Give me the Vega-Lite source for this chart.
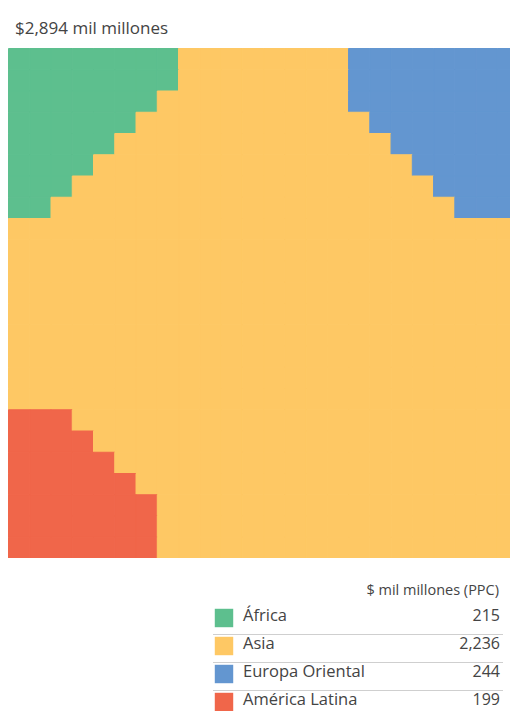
{
  "$schema": "https://vega.github.io/schema/vega-lite/v6.json",
  "padding": {"left": 8, "top": 20, "right": 0, "bottom": 0},
  "background": "#ffffff",
  "config": {
    "view": {"stroke": null},
    "font": "Open Sans",
    "concat": {"spacing": 24}
  },
  "vconcat": [
    {
      "width": 502,
      "height": 510,
      "title": {
        "text": "$2,894 mil millones",
        "anchor": "start",
        "fontSize": 17,
        "fontWeight": "normal",
        "color": "#444444",
        "letterSpacing": 1.3,
        "offset": 10,
        "dx": 7
      },
      "data": {
        "values": [
          {"col":0,"row":0,"reg":"AF"},{"col":1,"row":0,"reg":"AF"},{"col":2,"row":0,"reg":"AF"},{"col":3,"row":0,"reg":"AF"},{"col":4,"row":0,"reg":"AF"},{"col":5,"row":0,"reg":"AF"},{"col":6,"row":0,"reg":"AF"},{"col":7,"row":0,"reg":"AF"},{"col":8,"row":0,"reg":"AS"},{"col":9,"row":0,"reg":"AS"},{"col":10,"row":0,"reg":"AS"},{"col":11,"row":0,"reg":"AS"},{"col":12,"row":0,"reg":"AS"},{"col":13,"row":0,"reg":"AS"},{"col":14,"row":0,"reg":"AS"},{"col":15,"row":0,"reg":"AS"},{"col":16,"row":0,"reg":"EU"},{"col":17,"row":0,"reg":"EU"},{"col":18,"row":0,"reg":"EU"},{"col":19,"row":0,"reg":"EU"},{"col":20,"row":0,"reg":"EU"},{"col":21,"row":0,"reg":"EU"},{"col":22,"row":0,"reg":"EU"},{"col":23,"row":0,"reg":"EU"},
          {"col":0,"row":1,"reg":"AF"},{"col":1,"row":1,"reg":"AF"},{"col":2,"row":1,"reg":"AF"},{"col":3,"row":1,"reg":"AF"},{"col":4,"row":1,"reg":"AF"},{"col":5,"row":1,"reg":"AF"},{"col":6,"row":1,"reg":"AF"},{"col":7,"row":1,"reg":"AF"},{"col":8,"row":1,"reg":"AS"},{"col":9,"row":1,"reg":"AS"},{"col":10,"row":1,"reg":"AS"},{"col":11,"row":1,"reg":"AS"},{"col":12,"row":1,"reg":"AS"},{"col":13,"row":1,"reg":"AS"},{"col":14,"row":1,"reg":"AS"},{"col":15,"row":1,"reg":"AS"},{"col":16,"row":1,"reg":"EU"},{"col":17,"row":1,"reg":"EU"},{"col":18,"row":1,"reg":"EU"},{"col":19,"row":1,"reg":"EU"},{"col":20,"row":1,"reg":"EU"},{"col":21,"row":1,"reg":"EU"},{"col":22,"row":1,"reg":"EU"},{"col":23,"row":1,"reg":"EU"},
          {"col":0,"row":2,"reg":"AF"},{"col":1,"row":2,"reg":"AF"},{"col":2,"row":2,"reg":"AF"},{"col":3,"row":2,"reg":"AF"},{"col":4,"row":2,"reg":"AF"},{"col":5,"row":2,"reg":"AF"},{"col":6,"row":2,"reg":"AF"},{"col":7,"row":2,"reg":"AS"},{"col":8,"row":2,"reg":"AS"},{"col":9,"row":2,"reg":"AS"},{"col":10,"row":2,"reg":"AS"},{"col":11,"row":2,"reg":"AS"},{"col":12,"row":2,"reg":"AS"},{"col":13,"row":2,"reg":"AS"},{"col":14,"row":2,"reg":"AS"},{"col":15,"row":2,"reg":"AS"},{"col":16,"row":2,"reg":"EU"},{"col":17,"row":2,"reg":"EU"},{"col":18,"row":2,"reg":"EU"},{"col":19,"row":2,"reg":"EU"},{"col":20,"row":2,"reg":"EU"},{"col":21,"row":2,"reg":"EU"},{"col":22,"row":2,"reg":"EU"},{"col":23,"row":2,"reg":"EU"},
          {"col":0,"row":3,"reg":"AF"},{"col":1,"row":3,"reg":"AF"},{"col":2,"row":3,"reg":"AF"},{"col":3,"row":3,"reg":"AF"},{"col":4,"row":3,"reg":"AF"},{"col":5,"row":3,"reg":"AF"},{"col":6,"row":3,"reg":"AS"},{"col":7,"row":3,"reg":"AS"},{"col":8,"row":3,"reg":"AS"},{"col":9,"row":3,"reg":"AS"},{"col":10,"row":3,"reg":"AS"},{"col":11,"row":3,"reg":"AS"},{"col":12,"row":3,"reg":"AS"},{"col":13,"row":3,"reg":"AS"},{"col":14,"row":3,"reg":"AS"},{"col":15,"row":3,"reg":"AS"},{"col":16,"row":3,"reg":"AS"},{"col":17,"row":3,"reg":"EU"},{"col":18,"row":3,"reg":"EU"},{"col":19,"row":3,"reg":"EU"},{"col":20,"row":3,"reg":"EU"},{"col":21,"row":3,"reg":"EU"},{"col":22,"row":3,"reg":"EU"},{"col":23,"row":3,"reg":"EU"},
          {"col":0,"row":4,"reg":"AF"},{"col":1,"row":4,"reg":"AF"},{"col":2,"row":4,"reg":"AF"},{"col":3,"row":4,"reg":"AF"},{"col":4,"row":4,"reg":"AF"},{"col":5,"row":4,"reg":"AS"},{"col":6,"row":4,"reg":"AS"},{"col":7,"row":4,"reg":"AS"},{"col":8,"row":4,"reg":"AS"},{"col":9,"row":4,"reg":"AS"},{"col":10,"row":4,"reg":"AS"},{"col":11,"row":4,"reg":"AS"},{"col":12,"row":4,"reg":"AS"},{"col":13,"row":4,"reg":"AS"},{"col":14,"row":4,"reg":"AS"},{"col":15,"row":4,"reg":"AS"},{"col":16,"row":4,"reg":"AS"},{"col":17,"row":4,"reg":"AS"},{"col":18,"row":4,"reg":"EU"},{"col":19,"row":4,"reg":"EU"},{"col":20,"row":4,"reg":"EU"},{"col":21,"row":4,"reg":"EU"},{"col":22,"row":4,"reg":"EU"},{"col":23,"row":4,"reg":"EU"},
          {"col":0,"row":5,"reg":"AF"},{"col":1,"row":5,"reg":"AF"},{"col":2,"row":5,"reg":"AF"},{"col":3,"row":5,"reg":"AF"},{"col":4,"row":5,"reg":"AS"},{"col":5,"row":5,"reg":"AS"},{"col":6,"row":5,"reg":"AS"},{"col":7,"row":5,"reg":"AS"},{"col":8,"row":5,"reg":"AS"},{"col":9,"row":5,"reg":"AS"},{"col":10,"row":5,"reg":"AS"},{"col":11,"row":5,"reg":"AS"},{"col":12,"row":5,"reg":"AS"},{"col":13,"row":5,"reg":"AS"},{"col":14,"row":5,"reg":"AS"},{"col":15,"row":5,"reg":"AS"},{"col":16,"row":5,"reg":"AS"},{"col":17,"row":5,"reg":"AS"},{"col":18,"row":5,"reg":"AS"},{"col":19,"row":5,"reg":"EU"},{"col":20,"row":5,"reg":"EU"},{"col":21,"row":5,"reg":"EU"},{"col":22,"row":5,"reg":"EU"},{"col":23,"row":5,"reg":"EU"},
          {"col":0,"row":6,"reg":"AF"},{"col":1,"row":6,"reg":"AF"},{"col":2,"row":6,"reg":"AF"},{"col":3,"row":6,"reg":"AS"},{"col":4,"row":6,"reg":"AS"},{"col":5,"row":6,"reg":"AS"},{"col":6,"row":6,"reg":"AS"},{"col":7,"row":6,"reg":"AS"},{"col":8,"row":6,"reg":"AS"},{"col":9,"row":6,"reg":"AS"},{"col":10,"row":6,"reg":"AS"},{"col":11,"row":6,"reg":"AS"},{"col":12,"row":6,"reg":"AS"},{"col":13,"row":6,"reg":"AS"},{"col":14,"row":6,"reg":"AS"},{"col":15,"row":6,"reg":"AS"},{"col":16,"row":6,"reg":"AS"},{"col":17,"row":6,"reg":"AS"},{"col":18,"row":6,"reg":"AS"},{"col":19,"row":6,"reg":"AS"},{"col":20,"row":6,"reg":"EU"},{"col":21,"row":6,"reg":"EU"},{"col":22,"row":6,"reg":"EU"},{"col":23,"row":6,"reg":"EU"},
          {"col":0,"row":7,"reg":"AF"},{"col":1,"row":7,"reg":"AF"},{"col":2,"row":7,"reg":"AS"},{"col":3,"row":7,"reg":"AS"},{"col":4,"row":7,"reg":"AS"},{"col":5,"row":7,"reg":"AS"},{"col":6,"row":7,"reg":"AS"},{"col":7,"row":7,"reg":"AS"},{"col":8,"row":7,"reg":"AS"},{"col":9,"row":7,"reg":"AS"},{"col":10,"row":7,"reg":"AS"},{"col":11,"row":7,"reg":"AS"},{"col":12,"row":7,"reg":"AS"},{"col":13,"row":7,"reg":"AS"},{"col":14,"row":7,"reg":"AS"},{"col":15,"row":7,"reg":"AS"},{"col":16,"row":7,"reg":"AS"},{"col":17,"row":7,"reg":"AS"},{"col":18,"row":7,"reg":"AS"},{"col":19,"row":7,"reg":"AS"},{"col":20,"row":7,"reg":"AS"},{"col":21,"row":7,"reg":"EU"},{"col":22,"row":7,"reg":"EU"},{"col":23,"row":7,"reg":"EU"},
          {"col":0,"row":8,"reg":"AS"},{"col":1,"row":8,"reg":"AS"},{"col":2,"row":8,"reg":"AS"},{"col":3,"row":8,"reg":"AS"},{"col":4,"row":8,"reg":"AS"},{"col":5,"row":8,"reg":"AS"},{"col":6,"row":8,"reg":"AS"},{"col":7,"row":8,"reg":"AS"},{"col":8,"row":8,"reg":"AS"},{"col":9,"row":8,"reg":"AS"},{"col":10,"row":8,"reg":"AS"},{"col":11,"row":8,"reg":"AS"},{"col":12,"row":8,"reg":"AS"},{"col":13,"row":8,"reg":"AS"},{"col":14,"row":8,"reg":"AS"},{"col":15,"row":8,"reg":"AS"},{"col":16,"row":8,"reg":"AS"},{"col":17,"row":8,"reg":"AS"},{"col":18,"row":8,"reg":"AS"},{"col":19,"row":8,"reg":"AS"},{"col":20,"row":8,"reg":"AS"},{"col":21,"row":8,"reg":"AS"},{"col":22,"row":8,"reg":"AS"},{"col":23,"row":8,"reg":"AS"},
          {"col":0,"row":9,"reg":"AS"},{"col":1,"row":9,"reg":"AS"},{"col":2,"row":9,"reg":"AS"},{"col":3,"row":9,"reg":"AS"},{"col":4,"row":9,"reg":"AS"},{"col":5,"row":9,"reg":"AS"},{"col":6,"row":9,"reg":"AS"},{"col":7,"row":9,"reg":"AS"},{"col":8,"row":9,"reg":"AS"},{"col":9,"row":9,"reg":"AS"},{"col":10,"row":9,"reg":"AS"},{"col":11,"row":9,"reg":"AS"},{"col":12,"row":9,"reg":"AS"},{"col":13,"row":9,"reg":"AS"},{"col":14,"row":9,"reg":"AS"},{"col":15,"row":9,"reg":"AS"},{"col":16,"row":9,"reg":"AS"},{"col":17,"row":9,"reg":"AS"},{"col":18,"row":9,"reg":"AS"},{"col":19,"row":9,"reg":"AS"},{"col":20,"row":9,"reg":"AS"},{"col":21,"row":9,"reg":"AS"},{"col":22,"row":9,"reg":"AS"},{"col":23,"row":9,"reg":"AS"},
          {"col":0,"row":10,"reg":"AS"},{"col":1,"row":10,"reg":"AS"},{"col":2,"row":10,"reg":"AS"},{"col":3,"row":10,"reg":"AS"},{"col":4,"row":10,"reg":"AS"},{"col":5,"row":10,"reg":"AS"},{"col":6,"row":10,"reg":"AS"},{"col":7,"row":10,"reg":"AS"},{"col":8,"row":10,"reg":"AS"},{"col":9,"row":10,"reg":"AS"},{"col":10,"row":10,"reg":"AS"},{"col":11,"row":10,"reg":"AS"},{"col":12,"row":10,"reg":"AS"},{"col":13,"row":10,"reg":"AS"},{"col":14,"row":10,"reg":"AS"},{"col":15,"row":10,"reg":"AS"},{"col":16,"row":10,"reg":"AS"},{"col":17,"row":10,"reg":"AS"},{"col":18,"row":10,"reg":"AS"},{"col":19,"row":10,"reg":"AS"},{"col":20,"row":10,"reg":"AS"},{"col":21,"row":10,"reg":"AS"},{"col":22,"row":10,"reg":"AS"},{"col":23,"row":10,"reg":"AS"},
          {"col":0,"row":11,"reg":"AS"},{"col":1,"row":11,"reg":"AS"},{"col":2,"row":11,"reg":"AS"},{"col":3,"row":11,"reg":"AS"},{"col":4,"row":11,"reg":"AS"},{"col":5,"row":11,"reg":"AS"},{"col":6,"row":11,"reg":"AS"},{"col":7,"row":11,"reg":"AS"},{"col":8,"row":11,"reg":"AS"},{"col":9,"row":11,"reg":"AS"},{"col":10,"row":11,"reg":"AS"},{"col":11,"row":11,"reg":"AS"},{"col":12,"row":11,"reg":"AS"},{"col":13,"row":11,"reg":"AS"},{"col":14,"row":11,"reg":"AS"},{"col":15,"row":11,"reg":"AS"},{"col":16,"row":11,"reg":"AS"},{"col":17,"row":11,"reg":"AS"},{"col":18,"row":11,"reg":"AS"},{"col":19,"row":11,"reg":"AS"},{"col":20,"row":11,"reg":"AS"},{"col":21,"row":11,"reg":"AS"},{"col":22,"row":11,"reg":"AS"},{"col":23,"row":11,"reg":"AS"},
          {"col":0,"row":12,"reg":"AS"},{"col":1,"row":12,"reg":"AS"},{"col":2,"row":12,"reg":"AS"},{"col":3,"row":12,"reg":"AS"},{"col":4,"row":12,"reg":"AS"},{"col":5,"row":12,"reg":"AS"},{"col":6,"row":12,"reg":"AS"},{"col":7,"row":12,"reg":"AS"},{"col":8,"row":12,"reg":"AS"},{"col":9,"row":12,"reg":"AS"},{"col":10,"row":12,"reg":"AS"},{"col":11,"row":12,"reg":"AS"},{"col":12,"row":12,"reg":"AS"},{"col":13,"row":12,"reg":"AS"},{"col":14,"row":12,"reg":"AS"},{"col":15,"row":12,"reg":"AS"},{"col":16,"row":12,"reg":"AS"},{"col":17,"row":12,"reg":"AS"},{"col":18,"row":12,"reg":"AS"},{"col":19,"row":12,"reg":"AS"},{"col":20,"row":12,"reg":"AS"},{"col":21,"row":12,"reg":"AS"},{"col":22,"row":12,"reg":"AS"},{"col":23,"row":12,"reg":"AS"},
          {"col":0,"row":13,"reg":"AS"},{"col":1,"row":13,"reg":"AS"},{"col":2,"row":13,"reg":"AS"},{"col":3,"row":13,"reg":"AS"},{"col":4,"row":13,"reg":"AS"},{"col":5,"row":13,"reg":"AS"},{"col":6,"row":13,"reg":"AS"},{"col":7,"row":13,"reg":"AS"},{"col":8,"row":13,"reg":"AS"},{"col":9,"row":13,"reg":"AS"},{"col":10,"row":13,"reg":"AS"},{"col":11,"row":13,"reg":"AS"},{"col":12,"row":13,"reg":"AS"},{"col":13,"row":13,"reg":"AS"},{"col":14,"row":13,"reg":"AS"},{"col":15,"row":13,"reg":"AS"},{"col":16,"row":13,"reg":"AS"},{"col":17,"row":13,"reg":"AS"},{"col":18,"row":13,"reg":"AS"},{"col":19,"row":13,"reg":"AS"},{"col":20,"row":13,"reg":"AS"},{"col":21,"row":13,"reg":"AS"},{"col":22,"row":13,"reg":"AS"},{"col":23,"row":13,"reg":"AS"},
          {"col":0,"row":14,"reg":"AS"},{"col":1,"row":14,"reg":"AS"},{"col":2,"row":14,"reg":"AS"},{"col":3,"row":14,"reg":"AS"},{"col":4,"row":14,"reg":"AS"},{"col":5,"row":14,"reg":"AS"},{"col":6,"row":14,"reg":"AS"},{"col":7,"row":14,"reg":"AS"},{"col":8,"row":14,"reg":"AS"},{"col":9,"row":14,"reg":"AS"},{"col":10,"row":14,"reg":"AS"},{"col":11,"row":14,"reg":"AS"},{"col":12,"row":14,"reg":"AS"},{"col":13,"row":14,"reg":"AS"},{"col":14,"row":14,"reg":"AS"},{"col":15,"row":14,"reg":"AS"},{"col":16,"row":14,"reg":"AS"},{"col":17,"row":14,"reg":"AS"},{"col":18,"row":14,"reg":"AS"},{"col":19,"row":14,"reg":"AS"},{"col":20,"row":14,"reg":"AS"},{"col":21,"row":14,"reg":"AS"},{"col":22,"row":14,"reg":"AS"},{"col":23,"row":14,"reg":"AS"},
          {"col":0,"row":15,"reg":"AS"},{"col":1,"row":15,"reg":"AS"},{"col":2,"row":15,"reg":"AS"},{"col":3,"row":15,"reg":"AS"},{"col":4,"row":15,"reg":"AS"},{"col":5,"row":15,"reg":"AS"},{"col":6,"row":15,"reg":"AS"},{"col":7,"row":15,"reg":"AS"},{"col":8,"row":15,"reg":"AS"},{"col":9,"row":15,"reg":"AS"},{"col":10,"row":15,"reg":"AS"},{"col":11,"row":15,"reg":"AS"},{"col":12,"row":15,"reg":"AS"},{"col":13,"row":15,"reg":"AS"},{"col":14,"row":15,"reg":"AS"},{"col":15,"row":15,"reg":"AS"},{"col":16,"row":15,"reg":"AS"},{"col":17,"row":15,"reg":"AS"},{"col":18,"row":15,"reg":"AS"},{"col":19,"row":15,"reg":"AS"},{"col":20,"row":15,"reg":"AS"},{"col":21,"row":15,"reg":"AS"},{"col":22,"row":15,"reg":"AS"},{"col":23,"row":15,"reg":"AS"},
          {"col":0,"row":16,"reg":"AS"},{"col":1,"row":16,"reg":"AS"},{"col":2,"row":16,"reg":"AS"},{"col":3,"row":16,"reg":"AS"},{"col":4,"row":16,"reg":"AS"},{"col":5,"row":16,"reg":"AS"},{"col":6,"row":16,"reg":"AS"},{"col":7,"row":16,"reg":"AS"},{"col":8,"row":16,"reg":"AS"},{"col":9,"row":16,"reg":"AS"},{"col":10,"row":16,"reg":"AS"},{"col":11,"row":16,"reg":"AS"},{"col":12,"row":16,"reg":"AS"},{"col":13,"row":16,"reg":"AS"},{"col":14,"row":16,"reg":"AS"},{"col":15,"row":16,"reg":"AS"},{"col":16,"row":16,"reg":"AS"},{"col":17,"row":16,"reg":"AS"},{"col":18,"row":16,"reg":"AS"},{"col":19,"row":16,"reg":"AS"},{"col":20,"row":16,"reg":"AS"},{"col":21,"row":16,"reg":"AS"},{"col":22,"row":16,"reg":"AS"},{"col":23,"row":16,"reg":"AS"},
          {"col":0,"row":17,"reg":"AL"},{"col":1,"row":17,"reg":"AL"},{"col":2,"row":17,"reg":"AL"},{"col":3,"row":17,"reg":"AS"},{"col":4,"row":17,"reg":"AS"},{"col":5,"row":17,"reg":"AS"},{"col":6,"row":17,"reg":"AS"},{"col":7,"row":17,"reg":"AS"},{"col":8,"row":17,"reg":"AS"},{"col":9,"row":17,"reg":"AS"},{"col":10,"row":17,"reg":"AS"},{"col":11,"row":17,"reg":"AS"},{"col":12,"row":17,"reg":"AS"},{"col":13,"row":17,"reg":"AS"},{"col":14,"row":17,"reg":"AS"},{"col":15,"row":17,"reg":"AS"},{"col":16,"row":17,"reg":"AS"},{"col":17,"row":17,"reg":"AS"},{"col":18,"row":17,"reg":"AS"},{"col":19,"row":17,"reg":"AS"},{"col":20,"row":17,"reg":"AS"},{"col":21,"row":17,"reg":"AS"},{"col":22,"row":17,"reg":"AS"},{"col":23,"row":17,"reg":"AS"},
          {"col":0,"row":18,"reg":"AL"},{"col":1,"row":18,"reg":"AL"},{"col":2,"row":18,"reg":"AL"},{"col":3,"row":18,"reg":"AL"},{"col":4,"row":18,"reg":"AS"},{"col":5,"row":18,"reg":"AS"},{"col":6,"row":18,"reg":"AS"},{"col":7,"row":18,"reg":"AS"},{"col":8,"row":18,"reg":"AS"},{"col":9,"row":18,"reg":"AS"},{"col":10,"row":18,"reg":"AS"},{"col":11,"row":18,"reg":"AS"},{"col":12,"row":18,"reg":"AS"},{"col":13,"row":18,"reg":"AS"},{"col":14,"row":18,"reg":"AS"},{"col":15,"row":18,"reg":"AS"},{"col":16,"row":18,"reg":"AS"},{"col":17,"row":18,"reg":"AS"},{"col":18,"row":18,"reg":"AS"},{"col":19,"row":18,"reg":"AS"},{"col":20,"row":18,"reg":"AS"},{"col":21,"row":18,"reg":"AS"},{"col":22,"row":18,"reg":"AS"},{"col":23,"row":18,"reg":"AS"},
          {"col":0,"row":19,"reg":"AL"},{"col":1,"row":19,"reg":"AL"},{"col":2,"row":19,"reg":"AL"},{"col":3,"row":19,"reg":"AL"},{"col":4,"row":19,"reg":"AL"},{"col":5,"row":19,"reg":"AS"},{"col":6,"row":19,"reg":"AS"},{"col":7,"row":19,"reg":"AS"},{"col":8,"row":19,"reg":"AS"},{"col":9,"row":19,"reg":"AS"},{"col":10,"row":19,"reg":"AS"},{"col":11,"row":19,"reg":"AS"},{"col":12,"row":19,"reg":"AS"},{"col":13,"row":19,"reg":"AS"},{"col":14,"row":19,"reg":"AS"},{"col":15,"row":19,"reg":"AS"},{"col":16,"row":19,"reg":"AS"},{"col":17,"row":19,"reg":"AS"},{"col":18,"row":19,"reg":"AS"},{"col":19,"row":19,"reg":"AS"},{"col":20,"row":19,"reg":"AS"},{"col":21,"row":19,"reg":"AS"},{"col":22,"row":19,"reg":"AS"},{"col":23,"row":19,"reg":"AS"},
          {"col":0,"row":20,"reg":"AL"},{"col":1,"row":20,"reg":"AL"},{"col":2,"row":20,"reg":"AL"},{"col":3,"row":20,"reg":"AL"},{"col":4,"row":20,"reg":"AL"},{"col":5,"row":20,"reg":"AL"},{"col":6,"row":20,"reg":"AS"},{"col":7,"row":20,"reg":"AS"},{"col":8,"row":20,"reg":"AS"},{"col":9,"row":20,"reg":"AS"},{"col":10,"row":20,"reg":"AS"},{"col":11,"row":20,"reg":"AS"},{"col":12,"row":20,"reg":"AS"},{"col":13,"row":20,"reg":"AS"},{"col":14,"row":20,"reg":"AS"},{"col":15,"row":20,"reg":"AS"},{"col":16,"row":20,"reg":"AS"},{"col":17,"row":20,"reg":"AS"},{"col":18,"row":20,"reg":"AS"},{"col":19,"row":20,"reg":"AS"},{"col":20,"row":20,"reg":"AS"},{"col":21,"row":20,"reg":"AS"},{"col":22,"row":20,"reg":"AS"},{"col":23,"row":20,"reg":"AS"},
          {"col":0,"row":21,"reg":"AL"},{"col":1,"row":21,"reg":"AL"},{"col":2,"row":21,"reg":"AL"},{"col":3,"row":21,"reg":"AL"},{"col":4,"row":21,"reg":"AL"},{"col":5,"row":21,"reg":"AL"},{"col":6,"row":21,"reg":"AL"},{"col":7,"row":21,"reg":"AS"},{"col":8,"row":21,"reg":"AS"},{"col":9,"row":21,"reg":"AS"},{"col":10,"row":21,"reg":"AS"},{"col":11,"row":21,"reg":"AS"},{"col":12,"row":21,"reg":"AS"},{"col":13,"row":21,"reg":"AS"},{"col":14,"row":21,"reg":"AS"},{"col":15,"row":21,"reg":"AS"},{"col":16,"row":21,"reg":"AS"},{"col":17,"row":21,"reg":"AS"},{"col":18,"row":21,"reg":"AS"},{"col":19,"row":21,"reg":"AS"},{"col":20,"row":21,"reg":"AS"},{"col":21,"row":21,"reg":"AS"},{"col":22,"row":21,"reg":"AS"},{"col":23,"row":21,"reg":"AS"},
          {"col":0,"row":22,"reg":"AL"},{"col":1,"row":22,"reg":"AL"},{"col":2,"row":22,"reg":"AL"},{"col":3,"row":22,"reg":"AL"},{"col":4,"row":22,"reg":"AL"},{"col":5,"row":22,"reg":"AL"},{"col":6,"row":22,"reg":"AL"},{"col":7,"row":22,"reg":"AS"},{"col":8,"row":22,"reg":"AS"},{"col":9,"row":22,"reg":"AS"},{"col":10,"row":22,"reg":"AS"},{"col":11,"row":22,"reg":"AS"},{"col":12,"row":22,"reg":"AS"},{"col":13,"row":22,"reg":"AS"},{"col":14,"row":22,"reg":"AS"},{"col":15,"row":22,"reg":"AS"},{"col":16,"row":22,"reg":"AS"},{"col":17,"row":22,"reg":"AS"},{"col":18,"row":22,"reg":"AS"},{"col":19,"row":22,"reg":"AS"},{"col":20,"row":22,"reg":"AS"},{"col":21,"row":22,"reg":"AS"},{"col":22,"row":22,"reg":"AS"},{"col":23,"row":22,"reg":"AS"},
          {"col":0,"row":23,"reg":"AL"},{"col":1,"row":23,"reg":"AL"},{"col":2,"row":23,"reg":"AL"},{"col":3,"row":23,"reg":"AL"},{"col":4,"row":23,"reg":"AL"},{"col":5,"row":23,"reg":"AL"},{"col":6,"row":23,"reg":"AL"},{"col":7,"row":23,"reg":"AS"},{"col":8,"row":23,"reg":"AS"},{"col":9,"row":23,"reg":"AS"},{"col":10,"row":23,"reg":"AS"},{"col":11,"row":23,"reg":"AS"},{"col":12,"row":23,"reg":"AS"},{"col":13,"row":23,"reg":"AS"},{"col":14,"row":23,"reg":"AS"},{"col":15,"row":23,"reg":"AS"},{"col":16,"row":23,"reg":"AS"},{"col":17,"row":23,"reg":"AS"},{"col":18,"row":23,"reg":"AS"},{"col":19,"row":23,"reg":"AS"},{"col":20,"row":23,"reg":"AS"},{"col":21,"row":23,"reg":"AS"},{"col":22,"row":23,"reg":"AS"},{"col":23,"row":23,"reg":"AS"}
        ]
      },
      "mark": {"type": "rect", "clip": true, "binSpacing": 0, "strokeWidth": 1},
      "encoding": {
        "x": {
          "field": "col",
          "type": "quantitative",
          "bin": {"step": 1, "extent": [0, 24]},
          "scale": {"domain": [0, 23.62], "nice": false, "zero": false},
          "axis": null
        },
        "y": {
          "field": "row",
          "type": "quantitative",
          "bin": {"step": 1, "extent": [0, 24]},
          "scale": {"domain": [0, 24], "nice": false, "zero": false, "reverse": true},
          "axis": null
        },
        "color": {
          "field": "reg",
          "type": "nominal",
          "scale": {
            "domain": ["AF", "AS", "EU", "AL"],
            "range": ["#5dbf8e", "#fec864", "#6396d0", "#f0664a"]
          },
          "legend": null
        },
        "stroke": {
          "field": "reg",
          "type": "nominal",
          "scale": {
            "domain": ["AF", "AS", "EU", "AL"],
            "range": ["#5dbf8e", "#fec864", "#6396d0", "#f0664a"]
          },
          "legend": null
        }
      }
    },
    {
      "width": 502,
      "height": 84,
      "title": {
        "text": "$ mil millones (PPC)",
        "anchor": "end",
        "fontSize": 14.5,
        "fontWeight": "normal",
        "color": "#444444",
        "letterSpacing": 1.0,
        "offset": 10,
        "dx": -11
      },
      "data": {
        "values": [
          {"order": 1, "reg": "AF", "name": "África", "value": 215},
          {"order": 2, "reg": "AS", "name": "Asia", "value": 2236},
          {"order": 3, "reg": "EU", "name": "Europa Oriental", "value": 244},
          {"order": 4, "reg": "AL", "name": "América Latina", "value": 199}
        ]
      },
      "encoding": {
        "y": {
          "field": "order",
          "type": "quantitative",
          "scale": {"domain": [1, 4], "nice": false, "zero": false, "reverse": true},
          "axis": null
        }
      },
      "layer": [
        {
          "transform": [{"filter": "datum.order > 1"}],
          "mark": {"type": "rule", "color": "#cfcfcf", "strokeWidth": 1, "yOffset": -10.5},
          "encoding": {"x": {"value": 205}, "x2": {"value": 495}}
        },
        {
          "mark": {"type": "square", "size": 340, "opacity": 1, "yOffset": 1},
          "encoding": {
            "x": {"value": 216},
            "color": {
              "field": "reg",
              "type": "nominal",
              "scale": {
                "domain": ["AF", "AS", "EU", "AL"],
                "range": ["#5dbf8e", "#fec864", "#6396d0", "#f0664a"]
              },
              "legend": null
            }
          }
        },
        {
          "mark": {"type": "text", "align": "left", "baseline": "middle", "fontSize": 16.5, "letterSpacing": 1.0, "color": "#444444", "yOffset": -1},
          "encoding": {"x": {"value": 235}, "text": {"field": "name"}}
        },
        {
          "mark": {"type": "text", "align": "right", "baseline": "middle", "fontSize": 16, "letterSpacing": 1.3, "color": "#444444", "yOffset": -1},
          "encoding": {"x": {"value": 492}, "text": {"field": "value", "type": "quantitative", "format": ","}}
        }
      ]
    }
  ]
}
